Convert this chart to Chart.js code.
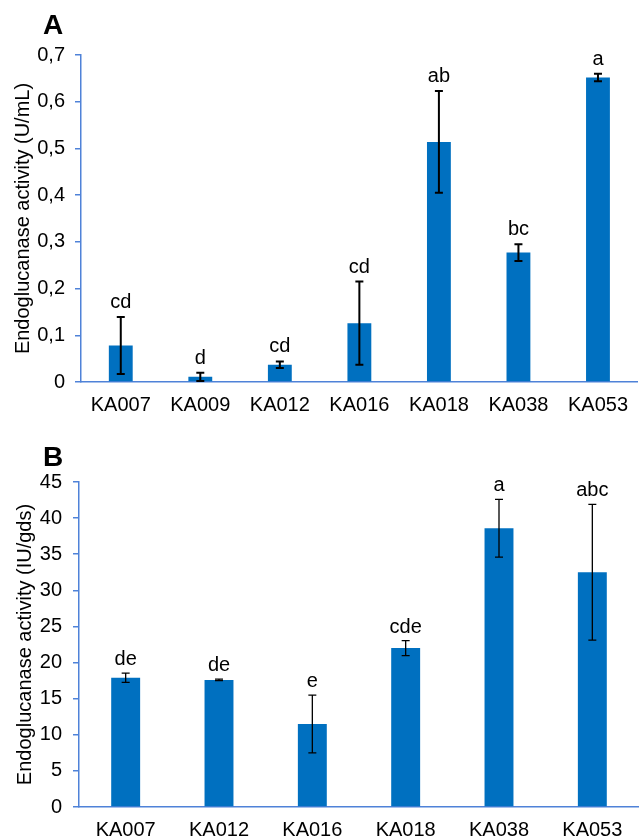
<!DOCTYPE html>
<html>
<head>
<meta charset="utf-8">
<script src="https://cdn.jsdelivr.net/npm/chart.js@4.4.1/dist/chart.umd.min.js"></script>
<style>
  body { margin: 0; background: #fff; }
  .panel { position: absolute; left: 0; width: 639px; }
  .tag { position: absolute; font: bold 28px 'Liberation Sans', Arial, sans-serif; color: #000; }
</style>
</head>
<body>
<div class="panel" style="top:0;height:420px"><canvas id="chartA" width="639" height="420"></canvas></div>
<div class="panel" style="top:420px;height:419px"><canvas id="chartB" width="639" height="419"></canvas></div>
<div class="tag" style="left:43px;top:9px">A</div>
<div class="tag" style="left:43px;top:441px">B</div>
<script>
// panel A - activity in U/mL
const strainsA = ['KA007', 'KA009', 'KA012', 'KA016', 'KA018', 'KA038', 'KA053']
const meanA = [0.078, 0.011, 0.037, 0.126, 0.514, 0.277, 0.652]
const errA = [0.061, 0.009, 0.007, 0.089, 0.109, 0.018, 0.008]
const lettersA = ['cd', 'd', 'cd', 'cd', 'ab', 'bc', 'a']
const tickLabelsA = ['0', '0,1', '0,2', '0,3', '0,4', '0,5', '0,6', '0,7']

// panel B - activity in IU/gds
const strainsB = ['KA007', 'KA012', 'KA016', 'KA018', 'KA038', 'KA053']
const meanB = [17.9, 17.6, 11.5, 22.0, 38.6, 32.5]
const errB = [0.65, 0.1, 4.0, 1.05, 4.0, 9.4]
const lettersB = ['de', 'de', 'e', 'cde', 'a', 'abc']
const tickLabelsB = ['0', '5', '10', '15', '20', '25', '30', '35', '40', '45']

const FONT = "'Liberation Sans', Arial, sans-serif"
const AXIS_COLOR = '#4f82d8'
const BAR_COLOR = '#0070c0'

Chart.defaults.font.family = FONT
Chart.defaults.color = '#000'

// draws the error bars and significance letters from the dataset values
const errorBarPlugin = {
  id: 'errorBars',
  afterDatasetsDraw(chart, args, opts) {
    const { ctx } = chart
    const yScale = chart.scales.y
    const meta = chart.getDatasetMeta(0)
    ctx.save()
    ctx.strokeStyle = '#000'
    ctx.lineWidth = opts.lineWidth
    meta.data.forEach((bar, i) => {
      const v = opts.values[i]
      const e = opts.errors[i]
      const top = yScale.getPixelForValue(v + e)
      const bot = yScale.getPixelForValue(v - e)
      const x = bar.x
      ctx.beginPath()
      ctx.moveTo(x, top)
      ctx.lineTo(x, bot)
      ctx.moveTo(x - opts.cap, top)
      ctx.lineTo(x + opts.cap, top)
      ctx.moveTo(x - opts.cap, bot)
      ctx.lineTo(x + opts.cap, bot)
      ctx.stroke()

      ctx.fillStyle = '#000'
      ctx.font = '20px ' + FONT
      ctx.textAlign = 'center'
      ctx.textBaseline = 'alphabetic'
      ctx.fillText(opts.letters[i], x, top - opts.gap)
    })
    ctx.restore()
  }
}

function buildChart(id, cfg) {
  return new Chart(document.getElementById(id), {
    type: 'bar',
    data: {
      labels: cfg.labels,
      datasets: [{
        data: cfg.values,
        backgroundColor: BAR_COLOR,
        borderWidth: 0,
        barPercentage: cfg.barPct,
        categoryPercentage: 1
      }]
    },
    options: {
      responsive: false,
      animation: false,
      layout: { padding: { top: cfg.padTop, left: 0, right: 0, bottom: 0 } },
      plugins: {
        legend: { display: false },
        tooltip: { enabled: false },
        errorBars: {
          values: cfg.values,
          errors: cfg.errors,
          letters: cfg.letters,
          lineWidth: cfg.errWidth,
          cap: 4,
          gap: cfg.gap
        }
      },
      scales: {
        x: {
          grid: { display: false, drawTicks: false },
          border: { display: true, color: AXIS_COLOR, width: 1.5 },
          ticks: {
            font: { size: 20 },
            padding: cfg.xPad,
            autoSkip: false,
            maxRotation: 0
          },
          afterFit: (scale) => { scale.height = cfg.xHeight }
        },
        y: {
          min: 0,
          max: cfg.max,
          grid: {
            display: true,
            drawOnChartArea: false,
            drawTicks: true,
            tickLength: 6,
            color: AXIS_COLOR,
            lineWidth: 1.5
          },
          border: { display: true, color: AXIS_COLOR, width: 1.5 },
          ticks: {
            stepSize: cfg.step,
            font: { size: 20 },
            padding: cfg.yPad,
            callback: (value, index) => cfg.tickLabels[index]
          },
          title: {
            display: true,
            text: cfg.title,
            font: { size: 20 },
            padding: { top: cfg.titlePad, bottom: 0 }
          },
          afterFit: (scale) => { scale.width = cfg.yWidth }
        }
      }
    },
    plugins: [errorBarPlugin]
  })
}

buildChart('chartA', {
  labels: strainsA,
  values: meanA,
  errors: errA,
  letters: lettersA,
  tickLabels: tickLabelsA,
  title: 'Endoglucanase activity (U/mL)',
  max: 0.7,
  step: 0.1,
  barPct: 0.3,
  errWidth: 2,
  gap: 9,
  padTop: 55,
  xHeight: 38,
  xPad: 11,
  yWidth: 81,
  yPad: 10,
  titlePad: 11
})

buildChart('chartB', {
  labels: strainsB,
  values: meanB,
  errors: errB,
  letters: lettersB,
  tickLabels: tickLabelsB,
  title: 'Endoglucanase activity (IU/gds)',
  max: 45,
  step: 5,
  barPct: 0.31,
  errWidth: 1.3,
  gap: 8,
  padTop: 62,
  xHeight: 32,
  xPad: 11,
  yWidth: 79,
  yPad: 11,
  titlePad: 13
})
</script>
</body>
</html>
